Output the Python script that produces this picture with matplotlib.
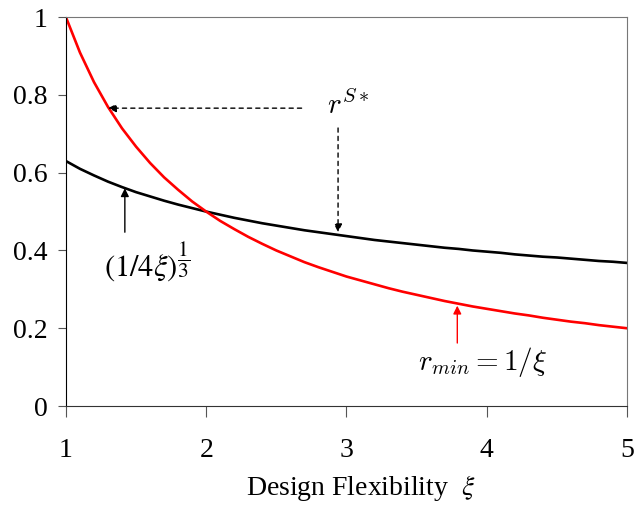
import numpy as np
import matplotlib.pyplot as plt

plt.rcParams['font.family'] = ['Liberation Serif', 'DejaVu Serif']
plt.rcParams['mathtext.fontset'] = 'cm'

# design flexibility values (x axis)
xi = [1.0, 1.1, 1.2, 1.3, 1.4, 1.5, 1.6, 1.7, 1.8, 1.9,
      2.0, 2.1, 2.2, 2.3, 2.4, 2.5, 2.6, 2.7, 2.8, 2.9,
      3.0, 3.1, 3.2, 3.3, 3.4, 3.5, 3.6, 3.7, 3.8, 3.9,
      4.0, 4.1, 4.2, 4.3, 4.4, 4.5, 4.6, 4.7, 4.8, 4.9, 5.0]

# r_min = 1/xi (red)
r_min = [1.000, 0.909, 0.833, 0.769, 0.714, 0.667, 0.625, 0.588, 0.556, 0.526,
         0.500, 0.476, 0.455, 0.435, 0.417, 0.400, 0.385, 0.370, 0.357, 0.345,
         0.333, 0.323, 0.313, 0.303, 0.294, 0.286, 0.278, 0.270, 0.263, 0.256,
         0.250, 0.244, 0.238, 0.233, 0.227, 0.222, 0.217, 0.213, 0.208, 0.204, 0.200]

# (1/4xi)^(1/3) (black)
r_cube = [0.630, 0.610, 0.593, 0.577, 0.563, 0.550, 0.539, 0.528, 0.518, 0.509,
          0.500, 0.492, 0.484, 0.477, 0.470, 0.464, 0.458, 0.452, 0.447, 0.442,
          0.437, 0.432, 0.427, 0.423, 0.419, 0.415, 0.411, 0.407, 0.404, 0.400,
          0.397, 0.394, 0.390, 0.387, 0.384, 0.382, 0.379, 0.376, 0.373, 0.371, 0.368]

xticks = [1, 2, 3, 4, 5]
yticks = [0, 0.2, 0.4, 0.6, 0.8, 1]
ytick_labels = ['0', '0.2', '0.4', '0.6', '0.8', '1']

fig = plt.figure(figsize=(6.34, 5.05), dpi=100)
ax = fig.add_axes([0.104, 0.196, 0.885, 0.770])

ax.plot(xi, r_cube, color='black', lw=1.9)
ax.plot(xi, r_min, color='#ff0000', lw=1.9)

ax.set_xlim(1, 5)
ax.set_ylim(0, 1)
ax.set_xticks(xticks)
ax.set_yticks(yticks)
ax.set_yticklabels(ytick_labels)
ax.tick_params(axis='both', labelsize=20, direction='out', color='#555555')
ax.tick_params(axis='x', length=8, pad=15)
ax.tick_params(axis='y', length=6, pad=7)
for s in ['top', 'right']:
    ax.spines[s].set_color('#777777')
ax.spines['left'].set_color('black')
ax.spines['bottom'].set_color('#333333')

# xlabel, centred a bit right of the axis middle like the original
ax.set_xlabel(r'Design Flexibility  $\xi$', fontsize=20,
              math_fontfamily='stix')
ax.xaxis.set_label_coords(0.525, -0.172)

# annotations
ax.text(2.86, 0.775, r'$r^{S*}$', fontsize=21, ha='left', va='center')
ax.annotate('', xy=(1.30, 0.766), xytext=(2.68, 0.766),
            arrowprops=dict(arrowstyle='-|>', linestyle=(0, (3, 3)), color='black',
                            lw=1.0, mutation_scale=12, shrinkA=0, shrinkB=0))
ax.annotate('', xy=(2.94, 0.447), xytext=(2.94, 0.715),
            arrowprops=dict(arrowstyle='-|>', linestyle=(0, (3, 3)), color='black',
                            lw=1.0, mutation_scale=12, shrinkA=0, shrinkB=0))
ax.annotate('', xy=(1.42, 0.560), xytext=(1.42, 0.447),
            arrowprops=dict(arrowstyle='-|>', color='black',
                            lw=1.0, mutation_scale=12, shrinkA=0, shrinkB=0))
ax.text(1.58, 0.37, r'$(1/4\xi)^{\dfrac{1}{3}}$', fontsize=22, ha='center', va='center',
        math_fontfamily='stix')
ax.annotate('', xy=(3.79, 0.258), xytext=(3.79, 0.162),
            arrowprops=dict(arrowstyle='-|>', color='#ff0000',
                            lw=1.0, mutation_scale=12, shrinkA=0, shrinkB=0))
ax.text(3.97, 0.113, r'$r_{min} = 1/\xi$', fontsize=21, ha='center', va='center')

fig.savefig('out.png', dpi=100)
